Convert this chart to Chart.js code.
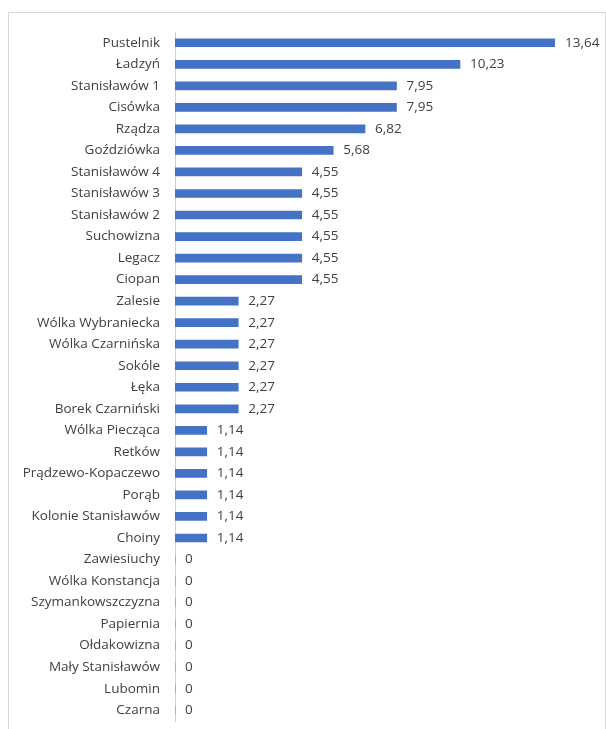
<!DOCTYPE html>
<html lang="pl">
<head>
    <meta charset="UTF-8">
    <title>Udział miejscowości</title>
    <script src="https://cdn.jsdelivr.net/npm/chart.js"></script>
    <style>
        body { margin: 0; background: #fff; }
        .wrap { position: relative; width: 606px; height: 729px; overflow: hidden; }
        .frame {
            position: absolute; left: 8px; top: 12px; width: 596px; height: 740px;
            border: 1px solid #d9d9d9;
        }
        canvas { position: absolute; left: 0; top: 0; }
    </style>
</head>
<body>
    <div class="wrap">
        <div class="frame"></div>
        <canvas id="chart" width="606" height="729"></canvas>
    </div>

    <script>
        // miejscowości i udział (%)
        const places = [
            'Pustelnik', 'Ładzyń', 'Stanisławów 1', 'Cisówka', 'Rządza', 'Goździówka',
            'Stanisławów 4', 'Stanisławów 3', 'Stanisławów 2', 'Suchowizna', 'Legacz', 'Ciopan',
            'Zalesie', 'Wólka Wybraniecka', 'Wólka Czarnińska', 'Sokóle', 'Łęka', 'Borek Czarniński',
            'Wólka Piecząca', 'Retków', 'Prądzewo-Kopaczewo', 'Porąb', 'Kolonie Stanisławów', 'Choiny',
            'Zawiesiuchy', 'Wólka Konstancja', 'Szymankowszczyzna', 'Papiernia', 'Ołdakowizna',
            'Mały Stanisławów', 'Lubomin', 'Czarna'
        ];
        const shares = [
            13.64, 10.23, 7.95, 7.95, 6.82, 5.68,
            4.55, 4.55, 4.55, 4.55, 4.55, 4.55,
            2.27, 2.27, 2.27, 2.27, 2.27, 2.27,
            1.14, 1.14, 1.14, 1.14, 1.14, 1.14,
            0, 0, 0, 0, 0, 0, 0, 0
        ];

        const textColor = '#404040';
        const font = { family: 'Open Sans', size: 13.5 };

        function fmt(v) {
            return v === 0 ? '0' : v.toFixed(2).replace('.', ',');
        }

        // etykiety wartości na końcu słupków
        const valueLabels = {
            id: 'valueLabels',
            afterDatasetsDraw(chart) {
                const ctx = chart.ctx;
                const meta = chart.getDatasetMeta(0);
                ctx.save();
                ctx.font = font.size + 'px "' + font.family + '"';
                ctx.fillStyle = textColor;
                ctx.textAlign = 'left';
                ctx.textBaseline = 'middle';
                meta.data.forEach((bar, i) => {
                    ctx.fillText(fmt(shares[i]), bar.x + 10, bar.y);
                });
                ctx.restore();
            }
        };

        new Chart(document.getElementById('chart'), {
            type: 'bar',
            data: {
                labels: places,
                datasets: [{
                    data: shares,
                    backgroundColor: '#4472c4',
                    barThickness: 8
                }]
            },
            options: {
                indexAxis: 'y',
                responsive: false,
                animation: false,
                layout: { padding: { top: 32, bottom: 8, right: 51, left: 0 } },
                plugins: {
                    legend: { display: false },
                    tooltip: { enabled: false }
                },
                scales: {
                    x: {
                        display: false,
                        min: 0,
                        max: 13.64
                    },
                    y: {
                        grid: { display: false, drawTicks: false },
                        border: { display: true, color: '#d0d0d0', width: 1 },
                        ticks: { color: textColor, font: font, padding: 15, autoSkip: false },
                        afterFit(scale) {
                            scale.width = 175;
                            scale.paddingTop = 0;
                            scale.paddingBottom = 0;
                        }
                    }
                }
            },
            plugins: [valueLabels]
        });
    </script>
</body>
</html>
